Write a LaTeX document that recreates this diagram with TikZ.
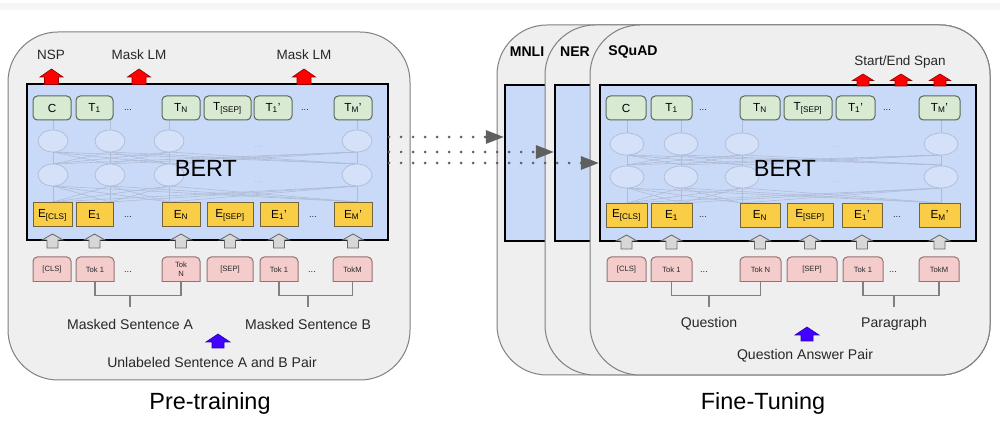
\documentclass[tikz,border=0pt]{standalone}
\usepackage{fontspec}
\setmainfont{Liberation Sans}
\usetikzlibrary{arrows.meta, positioning, calc}

\definecolor{panelgray}{RGB}{239,239,239}
\definecolor{paneledge}{RGB}{128,128,128}
\definecolor{bertblue}{RGB}{201,218,248}
\definecolor{outgreen}{RGB}{217,234,211}
\definecolor{outedge}{RGB}{90,105,88}
\definecolor{embyellow}{RGB}{249,205,70}
\definecolor{embedge}{RGB}{115,100,60}
\definecolor{tokpink}{RGB}{244,204,204}
\definecolor{tokedge}{RGB}{150,115,115}
\definecolor{headred}{RGB}{255,0,0}
\definecolor{headedge}{RGB}{150,0,0}
\definecolor{pairblue}{RGB}{65,0,255}
\definecolor{inpgray}{RGB}{215,215,215}
\definecolor{inpedge}{RGB}{105,105,105}
\definecolor{netgray}{RGB}{176,188,214}
\definecolor{dotgray}{RGB}{95,95,95}
\definecolor{txtdark}{RGB}{40,40,40}
\definecolor{topband}{RGB}{246,246,246}

\tikzset{
  panel/.style={draw=paneledge, fill=panelgray, line width=0.3mm, rounded corners=15mm},
  bertbox/.style={rectangle, draw=black, fill=bertblue, line width=0.65mm,
    inner sep=0pt, minimum height=46.8mm},
  outbox/.style={rectangle, draw=outedge, fill=outgreen, rounded corners=1.3mm,
    line width=0.3mm, inner sep=0pt, minimum height=7.2mm, font=\fontsize{10}{11}\selectfont},
  embbox/.style={rectangle, draw=embedge, fill=embyellow, line width=0.3mm,
    inner sep=0pt, minimum height=7.2mm, font=\fontsize{10}{11}\selectfont},
  tokshape/.style={draw=tokedge, fill=tokpink, line width=0.3mm, rounded corners=1.3mm},
  toktext/.style={rectangle, inner sep=0pt, minimum height=7.5mm, align=center,
    text=txtdark, font=\fontsize{6.5}{7.5}\selectfont},
  gap/.style={inner sep=0pt, text=txtdark, font=\fontsize{8}{9}\selectfont},
  netline/.style={draw=netgray, line width=0.18mm},
  netnode/.style={draw=netgray, fill=bertblue!80!white, line width=0.22mm},
  netdots/.style={inner sep=0pt, text=netgray, font=\fontsize{7}{8}\selectfont},
  bertlbl/.style={inner sep=0pt, text=black, font=\fontsize{20}{22}\selectfont},
  headlbl/.style={inner sep=1pt, text=txtdark, font=\fontsize{11.5}{13}\selectfont},
  tasklbl/.style={inner sep=1pt, text=black, font=\fontsize{12}{14}\selectfont\bfseries},
  lbl/.style={inner sep=1pt, text=txtdark, font=\fontsize{12}{14}\selectfont},
  stagelbl/.style={inner sep=1pt, text=black, font=\fontsize{20}{22}\selectfont},
  bracket/.style={draw=paneledge, line width=0.35mm},
  redarr/.style={fill=headred, draw=headedge, line width=0.2mm},
  bluearr/.style={fill=pairblue, draw=pairblue!70!black, line width=0.2mm},
  grayarr/.style={fill=inpgray, draw=inpedge, line width=0.25mm},
  dotarrow/.style={draw=dotgray, line width=0.85mm, line cap=round,
    dash pattern=on 0mm off 3.6mm, -{Triangle[length=5.4mm, width=3.9mm]}},
  pics/blockup/.style n args={4}{code={
    \path[pic actions] (0,0) -- (-#1,#3) -- (-#2,#3) -- (-#2,#4) -- (#2,#4)
      -- (#2,#3) -- (#1,#3) -- cycle;
  }}
}

\begin{document}
\begin{tikzpicture}[x=0.3mm, y=-0.3mm]
  \useasboundingbox (0,0) rectangle (1000,425);
  \fill[topband] (0,3) rectangle (1000,10);

  % ---------------- pre-training ----------------
  \draw[panel] (8,32) rectangle (410,380);
  \node[bertbox, minimum width=361*0.3mm] (lbert) at (207.5,162) {};

  % faint encoder layers
  \foreach \x in {53,110,169,357}{
    \draw[netline] (\x,120) -- (\x,203);
  }
  \foreach \a in {53,110,169,357}
    \foreach \b in {53,110,169,357}{
      \draw[netline] (\a,152) -- (\b,164);
      \draw[netline] (\a,186) -- (\b,202);
    }
  \foreach \x in {53,110,169,357}{
    \draw[netnode] (\x,141) ellipse (15 and 11);
    \draw[netnode] (\x,175) ellipse (15 and 11);
  }
  \node[netdots] (lndotsA) at (258,147) {...};
  \node[netdots] (lndotsB) at (258,182) {...};
  \node[bertlbl] (lbertlbl) at (206,168) {BERT};

  % output row
  \foreach \n/\x/\w/\t in {c/52/38/C, t1/94.5/37/{T\textsubscript{1}},
      tn/181/38/{T\textsubscript{N}}, tsep/227.5/47/{T\textsubscript{[SEP]}},
      tb1/273/38/{T\textsubscript{1}'}, tbm/353/38/{T\textsubscript{M}'}}
    \node[outbox, minimum width=\w*0.3mm] (l\n) at (\x,108) {\t};
  \node[gap] (lgdotsA) at (128,110) {...};
  \node[gap] (lgdotsB) at (305,110) {...};

  % embedding row
  \foreach \n/\x/\w/\t in {ecls/52.5/39/{E\textsubscript{[CLS]}}, e1/94.5/37/{E\textsubscript{1}},
      en/181/38/{E\textsubscript{N}}, esep/230/46/{E\textsubscript{[SEP]}},
      eb1/279/38/{E\textsubscript{1}'}, ebm/353/38/{E\textsubscript{M}'}}
    \node[embbox, minimum width=\w*0.3mm] (l\n) at (\x,215) {\t};
  \node[gap] (lydotsA) at (128,217) {...};
  \node[gap] (lydotsB) at (313,217) {...};

  % heads
  \node[headlbl] (nsp) at (51,55) {NSP};
  \node[headlbl] (mlmA) at (139,55) {Mask LM};
  \node[headlbl] (mlmB) at (304,55) {Mask LM};
  \foreach \x in {51.5,139,304}
    \pic[redarr] at (\x,69) {blockup={11.5}{7}{8}{15.5}};

  % inputs
  \foreach \x in {52.5,94.5,181,230,279,353}
    \pic[grayarr] at (\x,234) {blockup={10.5}{5.5}{6}{14}};
  \foreach \n/\x/\w/\t in {tcls/52/38/{[CLS]}, tk1/95/38/{Tok 1}, tkn/181/38/{Tok\\N},
      tsp/230/46/{[SEP]}, tkb1/279/38/{Tok 1}, tkbm/352.5/39/{TokM}}{
    \begin{scope}
      \clip (\x-\w/2-2,250) rectangle (\x+\w/2+2,282);
      \draw[tokshape] (\x-\w/2,257) rectangle (\x+\w/2,295);
    \end{scope}
    \draw[tokshape, sharp corners] (\x-\w/2,282) -- (\x+\w/2,282);
    \node[toktext, minimum width=\w*0.3mm] (l\n) at (\x,269.5) {\t};
  }
  \node[gap] (lpdotsA) at (128,272) {...};
  \node[gap] (lpdotsB) at (312,272) {...};

  % sentence brackets
  \draw[bracket] (ltk1.south) -- ++(0,13) -| (ltkn.south);
  \draw[bracket] (ltkb1.south) -- ++(0,13) -| (ltkbm.south);
  \coordinate (lsA) at (130,295);
  \coordinate (lsB) at (308,295);
  \draw[bracket] (lsA) -- ++(0,12);
  \draw[bracket] (lsB) -- ++(0,12);
  \node[lbl] (sentA) at (130,324) {Masked Sentence A};
  \node[lbl] (sentB) at (308,324) {Masked Sentence B};
  \pic[bluearr] at (218,334) {blockup={12}{6}{8}{14}};
  \node[lbl] (pairL) at (212,362) {Unlabeled Sentence A and B Pair};
  \node[stagelbl] (ptlbl) at (210,403) {Pre-training};

  % ---------------- fine-tuning ----------------
  \draw[panel] (497,25) rectangle (990,375);
  \node[bertbox, minimum width=475*0.3mm] (mnlibox) at (742.5,163) {};
  \node[tasklbl] (mnli) at (527,52) {MNLI};
  \draw[panel] (545,25) rectangle (990,375);
  \node[bertbox, minimum width=425*0.3mm] (nerbox) at (767.5,163) {};
  \node[tasklbl] (ner) at (575,52) {NER};
  \draw[panel] (590,25) rectangle (990,375);
  \node[bertbox, minimum width=376*0.3mm] (rbert) at (788,163) {};
  \node[tasklbl] (squad) at (633,52) {SQuAD};

  % faint encoder layers
  \foreach \x in {627,681,742,941}{
    \draw[netline] (\x,119) -- (\x,204);
  }
  \foreach \a in {627,681,742,941}
    \foreach \b in {627,681,742,941}{
      \draw[netline] (\a,155) -- (\b,165);
      \draw[netline] (\a,188) -- (\b,203);
    }
  \foreach \x in {627,681,742,941}{
    \draw[netnode] (\x,144) ellipse (17 and 11);
    \draw[netnode] (\x,177) ellipse (17 and 11);
  }
  \node[netdots] (rndotsA) at (836,147) {...};
  \node[netdots] (rndotsB) at (836,182) {...};
  \node[bertlbl] (rbertlbl) at (785,168) {BERT};

  % output row
  \foreach \n/\x/\w/\t in {c/626/40/C, t1/671.5/41/{T\textsubscript{1}},
      tn/760/40/{T\textsubscript{N}}, tsep/808/48/{T\textsubscript{[SEP]}},
      tb1/855.5/39/{T\textsubscript{1}'}, tbm/939.5/41/{T\textsubscript{M}'}}
    \node[outbox, minimum width=\w*0.3mm] (r\n) at (\x,108) {\t};
  \node[gap] (rgdotsA) at (703,110) {...};
  \node[gap] (rgdotsB) at (887,110) {...};

  % embedding row
  \foreach \n/\x/\w/\t in {ecls/626.5/41/{E\textsubscript{[CLS]}}, e1/671.5/41/{E\textsubscript{1}},
      en/760/40/{E\textsubscript{N}}, esep/810/46/{E\textsubscript{[SEP]}},
      eb1/862/40/{E\textsubscript{1}'}, ebm/939.5/41/{E\textsubscript{M}'}}
    \node[embbox, minimum width=\w*0.3mm] (r\n) at (\x,215.5) {\t};
  \node[gap] (rydotsA) at (703,217) {...};
  \node[gap] (rydotsB) at (897,217) {...};

  % span head
  \node[headlbl] (span) at (900,62) {Start/End Span};
  \foreach \x in {863,901,940}
    \pic[redarr] at (\x,74) {blockup={10.5}{6}{6.5}{12}};

  % inputs
  \foreach \x in {626.5,671.5,760,810,862,939.5}
    \pic[grayarr] at (\x,235) {blockup={10.5}{5.5}{6}{14}};
  \foreach \n/\x/\w/\t in {tcls/626.5/39/{[CLS]}, tk1/671.5/41/{Tok 1}, tkn/760.5/41/{Tok N},
      tsp/812/50/{[SEP]}, tkb1/863/40/{Tok 1}, tkbm/939/40/{TokM}}{
    \begin{scope}
      \clip (\x-\w/2-2,250) rectangle (\x+\w/2+2,282);
      \draw[tokshape] (\x-\w/2,257) rectangle (\x+\w/2,295);
    \end{scope}
    \draw[tokshape, sharp corners] (\x-\w/2,282) -- (\x+\w/2,282);
    \node[toktext, minimum width=\w*0.3mm] (r\n) at (\x,269.5) {\t};
  }
  \node[gap] (rpdotsA) at (704,272) {...};
  \node[gap] (rpdotsB) at (893,272) {...};

  % question / paragraph brackets
  \draw[bracket] (rtk1.south) -- ++(0,13) -| (rtkn.south);
  \draw[bracket] (rtkb1.south) -- ++(0,13) -| (rtkbm.south);
  \coordinate (rsQ) at (709,295);
  \coordinate (rsP) at (894,295);
  \draw[bracket] (rsQ) -- ++(0,12);
  \draw[bracket] (rsP) -- ++(0,12);
  \node[lbl] (quest) at (709,324) {Question};
  \node[lbl] (para) at (894,324) {Paragraph};
  \pic[bluearr] at (807,327) {blockup={12}{6}{8}{14}};
  \node[lbl] (qapair) at (805,356) {Question Answer Pair};
  \node[stagelbl] (ftlbl) at (763,403) {Fine-Tuning};

  % transfer of the pre-trained weights
  \draw[dotarrow] (lbert.east |- 0,137) -- (mnlibox.west |- 0,137);
  \draw[dotarrow] (lbert.east |- 0,152) -- (nerbox.west |- 0,152);
  \draw[dotarrow] (lbert.east |- 0,163) -- (rbert.west |- 0,163);
\end{tikzpicture}
\end{document}
